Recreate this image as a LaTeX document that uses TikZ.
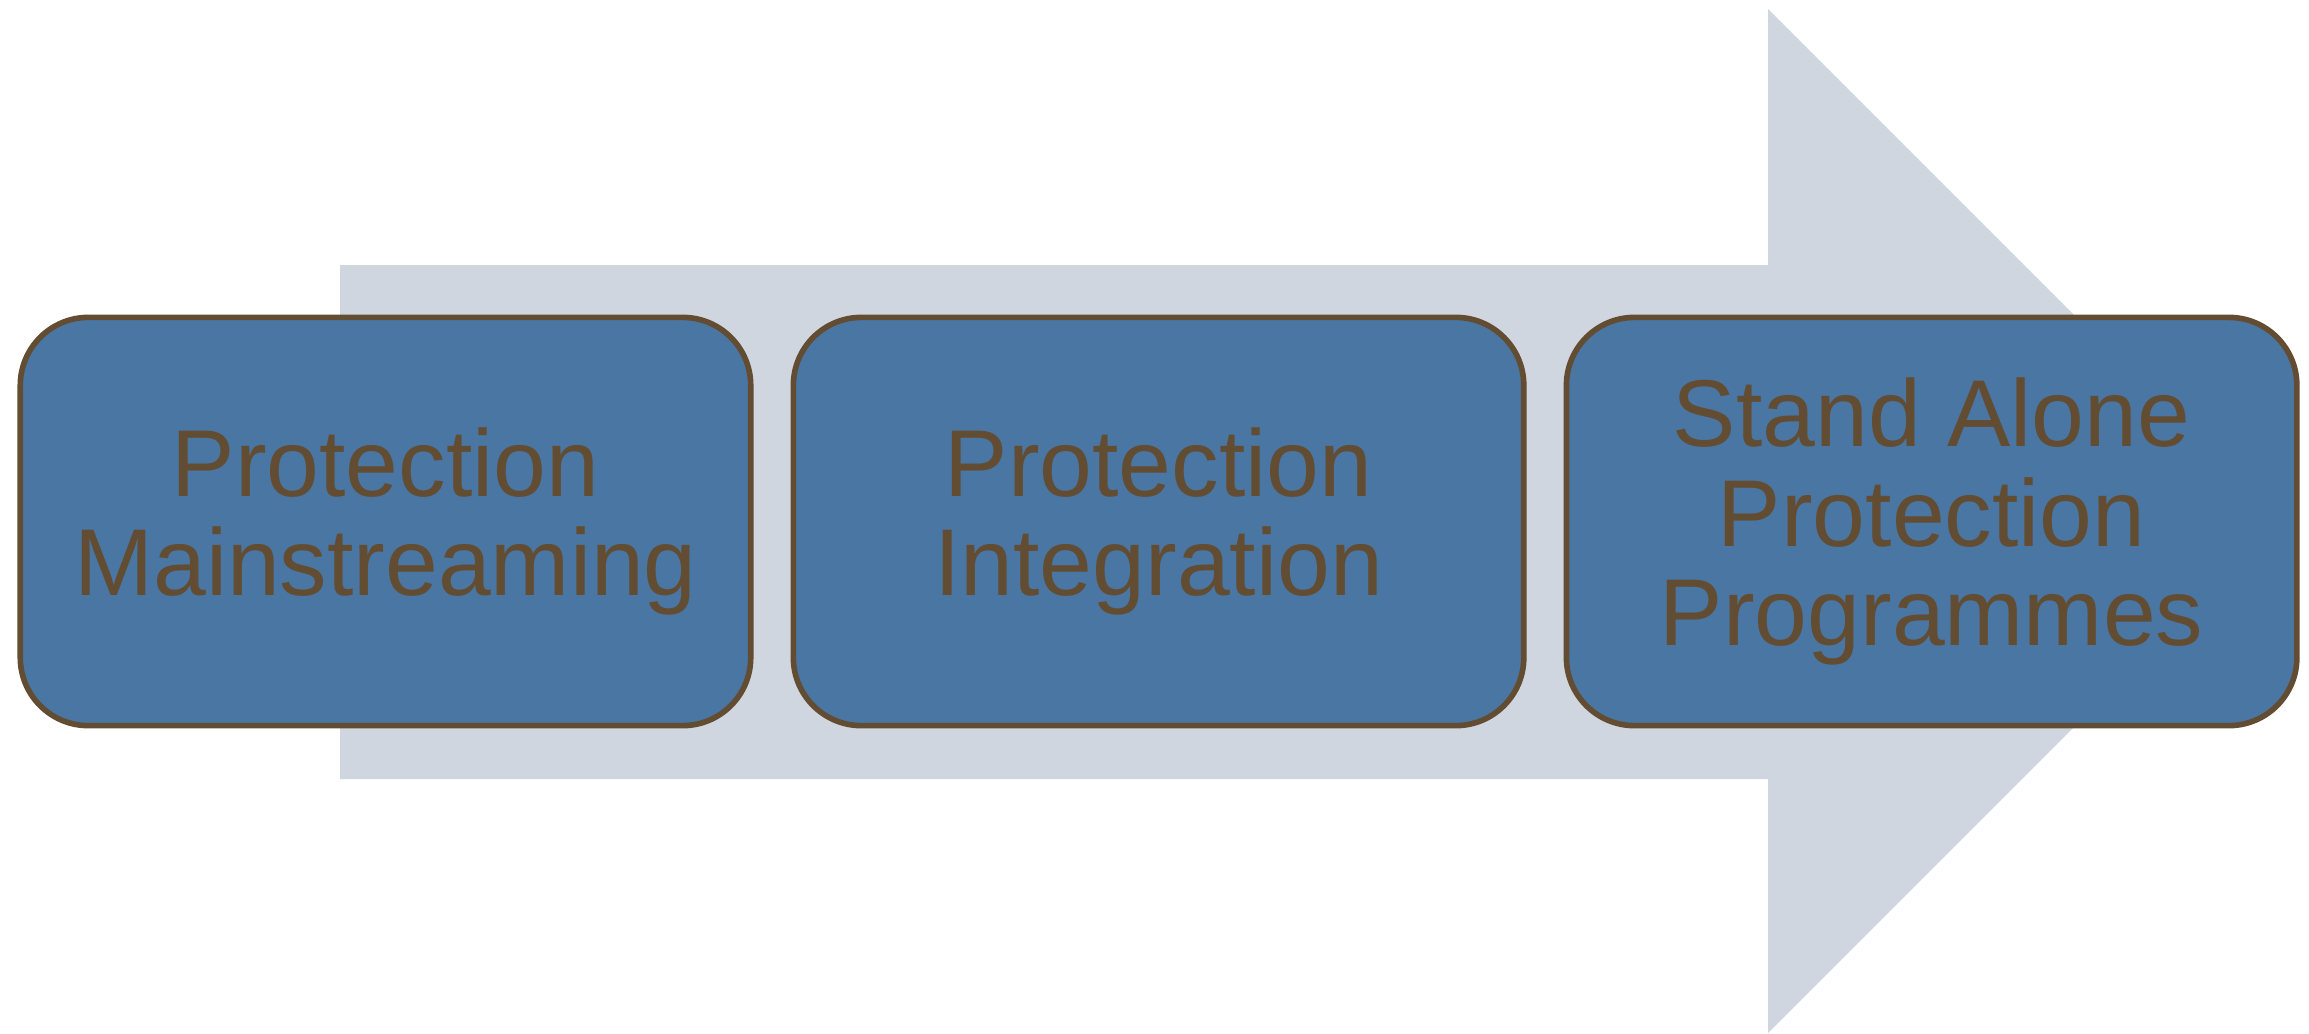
\documentclass[tikz,border=0pt]{standalone}
\usepackage{fontspec}
\setmainfont{Liberation Sans}
\usetikzlibrary{positioning}
\definecolor{stageblue}{HTML}{4A76A4}
\definecolor{stagebrown}{HTML}{634D32}
\definecolor{arrowgrey}{HTML}{D0D6E0}
\tikzset{
    stage-box/.style = {draw=stagebrown, fill=stageblue, line width=1.6pt, rectangle, rounded corners=0.68cm, minimum width=7.30cm, minimum height=4.08cm, align=center, text=stagebrown, font=\fontsize{27}{28.2}\selectfont},
    flow-arrow/.style = {fill=arrowgrey},
}

\begin{document}
\begin{tikzpicture}[x=0.01cm, y=-0.01cm]
\useasboundingbox (0,0) rectangle (2309,1033);
% big arrow behind the boxes
\fill[flow-arrow] (340,265) -- (1768,265) -- (1768,9) -- (2280,521) -- (1768,1033) -- (1768,779) -- (340,779) -- cycle;
\node[stage-box] (mainstream) at (385.5,521.5) {Protection\\Mainstreaming};
\node[stage-box, right=0.37cm of mainstream] (integration) {Protection\\Integration};
\node[stage-box, right=0.37cm of integration] (standalone) {Stand Alone\\Protection\\Programmes};
\end{tikzpicture}
\end{document}
